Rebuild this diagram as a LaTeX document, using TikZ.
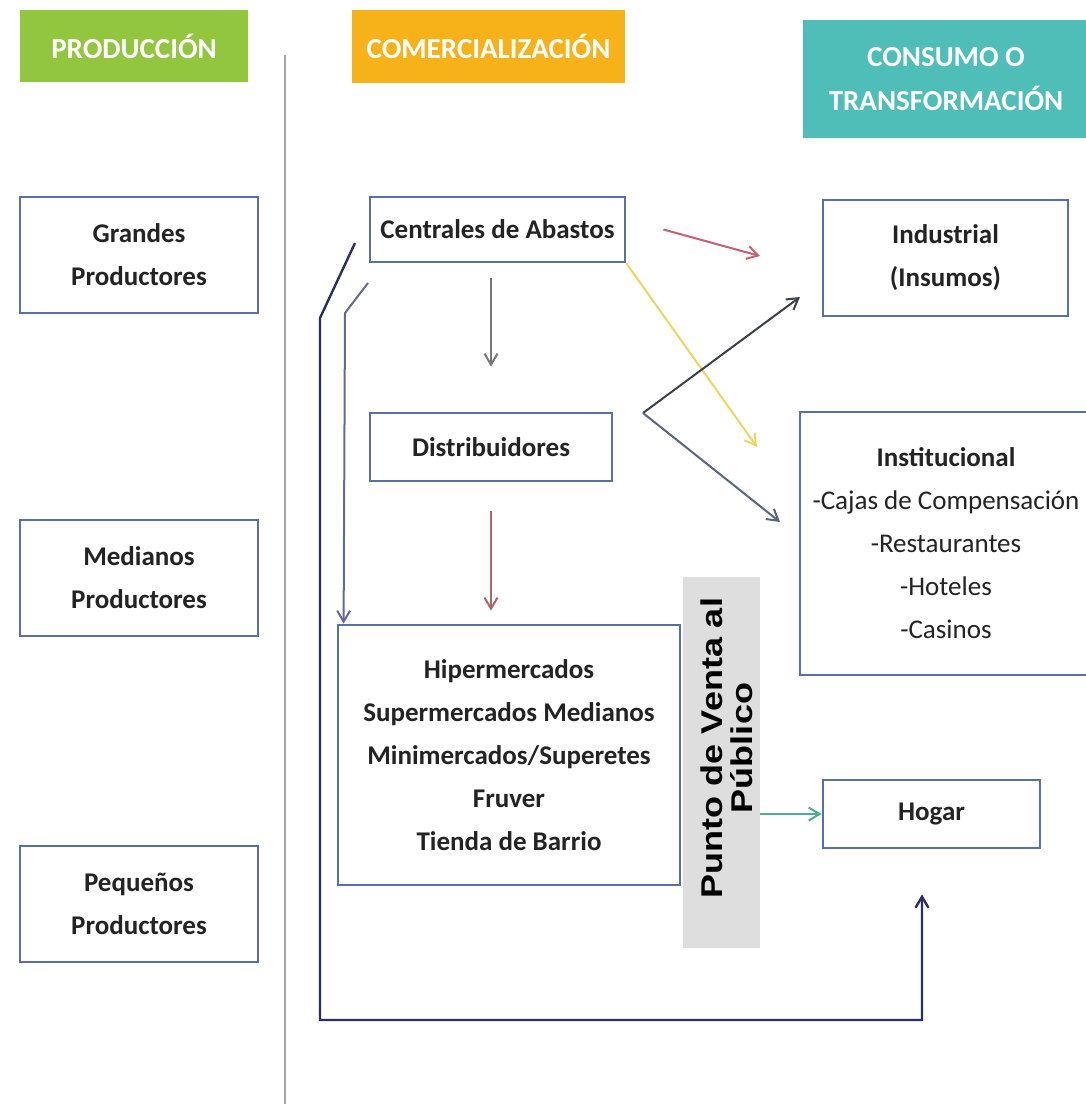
\documentclass[tikz,border=0pt]{standalone}
\usepackage{fontspec}
\setmainfont{Carlito}
\newfontfamily\puntofont{Liberation Sans}
\usepackage{xcolor}
\definecolor{boxblue}{RGB}{88,112,162}
\definecolor{txtdark}{RGB}{35,35,35}
\definecolor{prodgreen}{RGB}{146,198,62}
\definecolor{comorange}{RGB}{246,178,24}
\definecolor{consteal}{RGB}{80,190,184}
\definecolor{sepgray}{RGB}{165,165,165}
\definecolor{puntogray}{RGB}{222,222,222}
\definecolor{flowred}{RGB}{200,95,110}
\definecolor{flowgray}{RGB}{120,120,120}
\definecolor{flowyellow}{RGB}{236,214,96}
\definecolor{flowdark}{RGB}{60,64,74}
\definecolor{flowbluegray}{RGB}{88,100,128}
\definecolor{flowbrown}{RGB}{170,104,104}
\definecolor{flownavy}{RGB}{42,46,100}
\definecolor{flowpurple}{RGB}{104,102,150}
\definecolor{flowteal}{RGB}{80,170,150}
\usepackage{tikz}
\usetikzlibrary{arrows.meta}
\newcommand{\widthside}{119pt}
\newcommand{\heightside}{58pt}
\tikzset{
    common/.style={draw=boxblue, line width=1.4pt, fill=white, rectangle, align=center,
        text=txtdark, inner sep=2pt, font=\fontsize{13.5}{21.5}\selectfont\bfseries},
    sidebox/.style={common, minimum width=\widthside, minimum height=\heightside},
    header/.style={rectangle, text=white, align=center, inner sep=0pt,
        font=\fontsize{14.5}{22}\selectfont\bfseries},
    puntobox/.style={fill=puntogray, minimum width=38.5pt, minimum height=185.5pt},
    puntotext/.style={rotate=90, xscale=1.2, align=center, text=black, inner sep=0pt,
        font=\puntofont\fontsize{15}{15}\selectfont\bfseries},
    flow/.style={-{Straight Barb[length=5.5pt, width=6.5pt]}, line width=1pt},
    sepline/.style={sepgray, line width=0.8pt}
}

\begin{document}
\begin{tikzpicture}[x=0.5pt, y=-0.5pt]
    \useasboundingbox (0,0) rectangle (1086,1104);

    % column headers
    \node[header, fill=prodgreen, minimum width=114pt, minimum height=36pt] (produccion) at (134,46) {PRODUCCIÓN};
    \node[header, fill=comorange, minimum width=136.5pt, minimum height=36.5pt] (comercial) at (488.5,46.5) {COMERCIALIZACIÓN};
    \node[header, fill=consteal, minimum width=143pt, minimum height=59pt] (consumo) at (946,79) {CONSUMO O\\TRANSFORMACIÓN};
    \draw[sepline] (285,55) -- (285,1104);

    % producers
    \path
        (139,255) node[sidebox] (grandes) {Grandes\\Productores}
        ++(0,323) node[sidebox] (medianos) {Medianos\\Productores}
        ++(0,326) node[sidebox] (pequenos) {Pequeños\\Productores};

    % commercialization
    \node[common, minimum width=127.5pt, minimum height=32.5pt] (centrales) at (497.5,229.5) {Centrales de Abastos};
    \node[common, minimum width=121pt, minimum height=34pt] (distrib) at (491,447) {Distribuidores};
    \node[common, minimum width=171pt, minimum height=130pt] (hiper) at (509,755)
        {Hipermercados\\Supermercados Medianos\\Minimercados/Superetes\\Fruver\\Tienda de Barrio};
    \node[puntobox] (punto) at (721.5,762.5) {};
    \node[puntotext] (puntolabel) at (727,748) {Punto de Venta al\\Público};

    % consumption
    \node[common, minimum width=122.5pt, minimum height=58pt] (industrial) at (945.5,258) {Industrial\\(Insumos)};
    \node[common, minimum width=146pt, minimum height=131.5pt, font=\fontsize{13.5}{21.5}\selectfont] (institucional) at (946,543.5)
        {\textbf{Institucional}\\-Cajas de Compensación\\-Restaurantes\\-Hoteles\\-Casinos};
    \node[common, minimum width=108.5pt, minimum height=34pt] (hogar) at (931.5,814) {Hogar};

    % free ends
    \coordinate (redtip) at (760,256);
    \coordinate (yellowtip) at (757,447);
    \coordinate (vee) at (643,413);
    \coordinate (industip) at (800,297);
    \coordinate (institip) at (780,522);
    \coordinate (navystart) at (355,243);
    \coordinate (purplestart) at (368,283);

    \draw[flow, flowred] ([xshift=18.5pt]centrales.east) -- (redtip);
    \draw[flow, flowgray, shorten <=7.5pt, shorten >=22.5pt] (distrib.north |- centrales.south) -- (distrib.north);
    \draw[flow, flowyellow] (centrales.south east) -- (yellowtip);
    \draw[flow, flowdark] (vee) -- (industip);
    \draw[flow, flowbluegray] (vee) -- (institip);
    \draw[flow, flowbrown, shorten <=14.5pt, shorten >=6.5pt] (distrib.south) -- (distrib.south |- hiper.north);
    \draw[flow, flownavy, line width=1.2pt] (navystart) -- (320,318) -- (320,1020) -| ([shift={(-9.5,45)}]hogar.south);
    \draw[flow, flowpurple] (purplestart) -- (345,313) -- ([xshift=3.5pt]hiper.north west);
    \draw[flow, flowteal] (punto.east |- hogar.west) -- (hogar.west);
\end{tikzpicture}
\end{document}
